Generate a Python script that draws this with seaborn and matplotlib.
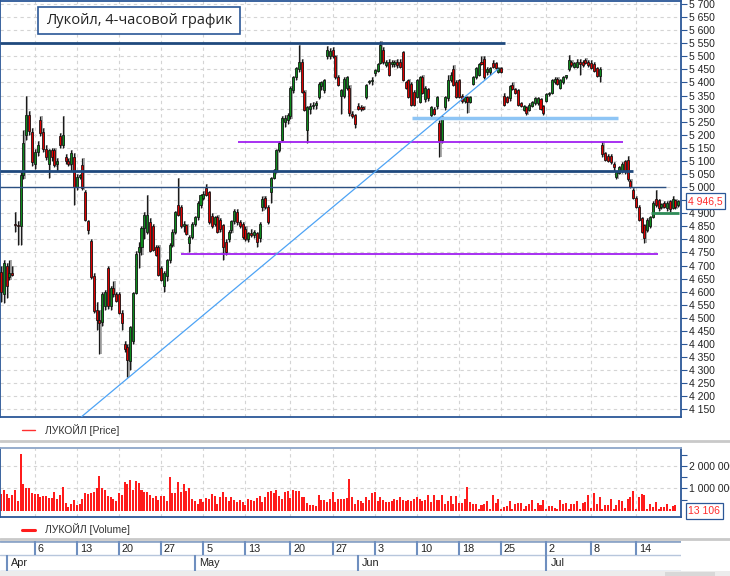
import numpy as np
import pandas as pd
import matplotlib
matplotlib.use('Agg')
import matplotlib.pyplot as plt
import matplotlib.transforms as mtrans
from matplotlib.lines import Line2D
from matplotlib.patches import Rectangle
import seaborn as sns

sns.set_theme(style='white')
plt.rcParams['font.family'] = ['Liberation Sans', 'DejaVu Sans']

# 4h candles
opens = [4675, 4590, 4700, 4655, 4670, 4860, 4855, 4850, 5045, 5200,
         5275, 5210, 5090, 5135, 5255, 5210, 5145, 5090, 5140, 5140,
         5090, 5195, 5160, 5115, 5100, 5090, 5115, 5000, 5040, 5085,
         4980, 4870, 4795, 4660, 4530, 4490, 4485, 4545, 4690, 4545,
         4615, 4590, 4590, 4520, 4400, 4390, 4335, 4410, 4595, 4750,
         4770, 4845, 4830, 4865, 4850, 4770, 4770, 4690, 4620, 4660,
         4720, 4780, 4830, 4930, 4925, 4850, 4855, 4785, 4810, 4860,
         4885, 4930, 4960, 4995, 4980, 4890, 4860, 4885, 4875, 4855,
         4790, 4800, 4835, 4870, 4905, 4865, 4860, 4840, 4800, 4825,
         4815, 4825, 4805, 4925, 4960, 4925, 4980, 5035, 5060, 5140,
         5180, 5250, 5255, 5270, 5370, 5420, 5450, 5478, 5365, 5220,
         5300, 5310, 5315, 5345, 5385, 5370, 5500, 5500, 5525, 5500,
         5420, 5350, 5350, 5380, 5380, 5280, 5275, 5310, 5305, 5305,
         5345, 5400, 5405, 5435, 5445, 5475, 5525, 5465, 5478, 5470,
         5470, 5480, 5480, 5515, 5400, 5410, 5395, 5365, 5345, 5325,
         5420, 5335, 5375, 5275, 5300, 5310, 5245, 5180, 5305, 5340,
         5410, 5450, 5400, 5410, 5350, 5330, 5345, 5325, 5395, 5420,
         5430, 5480, 5490, 5440, 5440, 5475, 5475, 5440, 5455, 5350,
         5345, 5340, 5390, 5375, 5370, 5320, 5295, 5305, 5295, 5310,
         5320, 5320, 5335, 5310, 5330, 5355, 5360, 5400, 5415, 5380,
         5400, 5420, 5450, 5480, 5460, 5460, 5480, 5478, 5485, 5480,
         5475, 5470, 5455, 5425, 5160, 5130, 5120, 5120, 5090, 5040,
         5055, 5060, 5100, 5105, 5025, 4990, 4960, 4925, 4880, 4855,
         4835, 4850, 4885, 4955, 4950, 4925, 4940, 4920, 4945, 4920,
         4950, 4930]
highs = [4700, 4720, 4710, 4720, 4700, 4905, 4870, 5060, 5220, 5350,
         5290, 5225, 5145, 5175, 5270, 5225, 5160, 5145, 5150, 5150,
         5110, 5205, 5270, 5125, 5110, 5140, 5130, 5050, 5050, 5110,
         4990, 4875, 4800, 4670, 4560, 4530, 4600, 4605, 4700, 4620,
         4640, 4600, 4600, 4530, 4410, 4400, 4470, 4600, 4755, 4790,
         4850, 4905, 4970, 4880, 4860, 4780, 4780, 4700, 4680, 4725,
         4785, 4840, 4910, 5035, 4930, 4870, 4860, 4815, 4865, 4890,
         4945, 4975, 4985, 5010, 4985, 4900, 4890, 4895, 4880, 4860,
         4800, 4835, 4875, 4915, 4915, 4875, 4865, 4850, 4830, 4840,
         4835, 4830, 4865, 4965, 4965, 4930, 5040, 5070, 5145, 5175,
         5270, 5275, 5285, 5385, 5425, 5460, 5545, 5490, 5370, 5310,
         5320, 5325, 5330, 5400, 5405, 5415, 5540, 5530, 5535, 5505,
         5430, 5375, 5420, 5425, 5390, 5290, 5280, 5320, 5315, 5310,
         5395, 5410, 5420, 5450, 5475, 5560, 5535, 5485, 5490, 5485,
         5485, 5490, 5490, 5520, 5405, 5415, 5400, 5370, 5415, 5425,
         5430, 5385, 5380, 5310, 5305, 5350, 5255, 5270, 5350, 5430,
         5440, 5465, 5410, 5415, 5355, 5350, 5350, 5350, 5425, 5460,
         5475, 5500, 5500, 5460, 5460, 5485, 5480, 5460, 5460, 5360,
         5350, 5390, 5400, 5380, 5375, 5325, 5315, 5310, 5320, 5330,
         5345, 5345, 5340, 5315, 5360, 5365, 5415, 5420, 5420, 5415,
         5425, 5430, 5505, 5485, 5480, 5490, 5490, 5485, 5495, 5485,
         5485, 5480, 5460, 5460, 5175, 5135, 5125, 5125, 5095, 5060,
         5080, 5095, 5105, 5120, 5030, 4995, 4965, 4930, 4885, 4860,
         4880, 4890, 4945, 4990, 4955, 4940, 4945, 4945, 4950, 4965,
         4955, 4950]
lows = [4560, 4555, 4575, 4645, 4660, 4830, 4780, 4780, 5030, 5180,
        5200, 5080, 5070, 5120, 5195, 5135, 5105, 5035, 5100, 5075,
        5060, 5150, 5150, 5090, 5080, 5060, 4930, 4990, 5030, 4990,
        4870, 4820, 4650, 4520, 4455, 4360, 4470, 4530, 4535, 4530,
        4580, 4560, 4515, 4455, 4370, 4275, 4300, 4400, 4590, 4690,
        4740, 4800, 4820, 4750, 4755, 4735, 4660, 4640, 4600, 4640,
        4710, 4770, 4820, 4890, 4845, 4830, 4815, 4750, 4800, 4850,
        4875, 4920, 4950, 4965, 4860, 4845, 4850, 4825, 4830, 4720,
        4740, 4790, 4825, 4860, 4855, 4845, 4800, 4795, 4790, 4810,
        4805, 4770, 4790, 4910, 4915, 4860, 4940, 5030, 5055, 5135,
        5175, 5230, 5240, 5260, 5360, 5410, 5440, 5360, 5290, 5170,
        5280, 5300, 5300, 5335, 5370, 5360, 5490, 5490, 5495, 5415,
        5385, 5280, 5340, 5370, 5270, 5265, 5225, 5295, 5290, 5295,
        5335, 5395, 5390, 5425, 5440, 5470, 5470, 5460, 5425, 5460,
        5460, 5455, 5455, 5405, 5375, 5340, 5310, 5310, 5340, 5320,
        5355, 5325, 5330, 5265, 5275, 5300, 5115, 5170, 5295, 5330,
        5400, 5385, 5340, 5340, 5320, 5320, 5285, 5320, 5390, 5415,
        5425, 5465, 5415, 5430, 5430, 5455, 5450, 5435, 5435, 5310,
        5320, 5330, 5370, 5355, 5310, 5305, 5290, 5275, 5290, 5305,
        5315, 5315, 5295, 5275, 5325, 5350, 5355, 5395, 5390, 5375,
        5395, 5415, 5445, 5460, 5455, 5455, 5430, 5460, 5470, 5460,
        5450, 5440, 5420, 5400, 5115, 5100, 5095, 5090, 5060, 5030,
        5050, 5055, 5050, 5025, 4995, 4955, 4920, 4870, 4825, 4785,
        4830, 4845, 4880, 4925, 4910, 4915, 4920, 4910, 4905, 4915,
        4915, 4925]
closes = [4600, 4710, 4620, 4670, 4665, 4855, 4850, 5045, 5170, 5275,
          5215, 5095, 5135, 5160, 5205, 5145, 5115, 5140, 5115, 5085,
          5100, 5160, 5200, 5100, 5090, 5130, 5000, 5040, 5045, 4997,
          4875, 4835, 4655, 4525, 4490, 4480, 4590, 4600, 4545, 4615,
          4590, 4565, 4520, 4480, 4380, 4340, 4465, 4595, 4745, 4770,
          4845, 4895, 4895, 4755, 4760, 4740, 4665, 4645, 4672, 4720,
          4780, 4830, 4905, 4895, 4850, 4860, 4820, 4810, 4860, 4885,
          4940, 4970, 4975, 4970, 4865, 4850, 4885, 4830, 4840, 4770,
          4750, 4830, 4870, 4910, 4865, 4850, 4810, 4800, 4825, 4815,
          4830, 4790, 4860, 4955, 4925, 4865, 5035, 5065, 5140, 5170,
          5265, 5265, 5275, 5380, 5420, 5455, 5478, 5365, 5295, 5305,
          5310, 5315, 5320, 5395, 5400, 5410, 5525, 5520, 5500, 5420,
          5390, 5370, 5415, 5420, 5285, 5270, 5240, 5300, 5300, 5300,
          5390, 5405, 5410, 5448, 5470, 5545, 5478, 5480, 5430, 5480,
          5480, 5465, 5460, 5410, 5380, 5345, 5315, 5315, 5410, 5420,
          5360, 5380, 5340, 5305, 5280, 5345, 5175, 5265, 5345, 5410,
          5430, 5390, 5345, 5345, 5330, 5345, 5325, 5345, 5420, 5455,
          5470, 5470, 5420, 5450, 5455, 5460, 5455, 5455, 5440, 5315,
          5325, 5385, 5375, 5360, 5315, 5310, 5310, 5285, 5315, 5325,
          5340, 5340, 5300, 5285, 5355, 5360, 5410, 5415, 5395, 5410,
          5420, 5428, 5485, 5465, 5475, 5480, 5470, 5465, 5475, 5465,
          5455, 5445, 5425, 5450, 5125, 5105, 5100, 5095, 5075, 5058,
          5077, 5090, 5060, 5030, 5000, 4960, 4925, 4875, 4830, 4805,
          4875, 4885, 4940, 4930, 4920, 4935, 4925, 4940, 4915, 4955,
          4925, 4946.5]
# volume, thousands of shares
volumes_k = [750, 930, 740, 590, 710, 930, 440, 2510, 1180, 1000,
             1040, 810, 760, 760, 630, 660, 660, 590, 590, 850,
             530, 710, 1070, 340, 180, 290, 500, 260, 310, 530,
             810, 750, 790, 850, 1040, 1530, 1010, 930, 660, 620,
             530, 440, 790, 710, 1290, 1180, 1380, 930, 1340, 1250,
             930, 820, 820, 690, 590, 660, 490, 660, 660, 440,
             1490, 810, 810, 1290, 840, 1190, 900, 1000, 530, 440,
             310, 530, 400, 560, 530, 740, 680, 290, 600, 840,
             630, 440, 600, 490, 400, 490, 400, 280, 530, 490,
             440, 560, 680, 400, 600, 820, 880, 790, 930, 680,
             530, 840, 880, 560, 930, 880, 880, 630, 600, 350,
             250, 250, 210, 690, 490, 490, 400, 530, 840, 400,
             530, 530, 530, 570, 1410, 600, 290, 490, 440, 350,
             600, 490, 790, 840, 440, 600, 490, 400, 400, 440,
             530, 490, 600, 490, 430, 490, 460, 530, 600, 530,
             440, 490, 690, 400, 690, 490, 490, 690, 290, 440,
             650, 290, 650, 350, 350, 530, 1060, 400, 310, 310,
             70, 260, 290, 440, 90, 690, 350, 530, 90, 180,
             210, 440, 90, 310, 350, 350, 90, 220, 310, 490,
             90, 350, 260, 490, 90, 210, 210, 130, 90, 490,
             310, 350, 90, 310, 310, 440, 90, 350, 400, 690,
             150, 790, 290, 620, 90, 250, 250, 530, 90, 250,
             490, 440, 130, 530, 630, 880, 90, 600, 750, 710,
             90, 290, 180, 400, 90, 180, 180, 290, 90, 200,
             250, 13.106]

# drawn support / resistance levels (price, from candle, to candle)
level_price = [5550, 5060, 5000, 5172, 4745, 5265, 4900]
level_from = [-0.4, -0.4, -0.4, 84.3, 64.1, 146.3, 231.3]
level_to = [179.4, 224.9, 236.7, 221.4, 233.8, 219.6, 241.3]
trend_x = [28.1, 176.9]
trend_y = [4117, 5451]

day_ticks = [12, 27, 42, 57, 72, 87, 103, 118, 133, 148, 163, 178, 194, 210, 226]
day_labels = ['6', '13', '20', '27', '5', '13', '20', '27', '3', '10', '18', '25', '2', '8', '14']
month_starts = [2, 69, 127, 194]
month_labels = ['Apr', 'May', 'Jun', 'Jul']

df = pd.DataFrame({'open': opens, 'high': highs, 'low': lows, 'close': closes})
df['idx'] = np.arange(len(df))
df['volume'] = np.array(volumes_k) * 1000
up = df.close >= df.open

W, H = 730, 576
def fx(px):
    return px / W
def fy(py):
    return 1 - py / H

XL = (-0.356, 242.0)
frame = '#2b5797'
gridc = '#d4d4d4'

def thou(v, pos=None):
    return '{:,}'.format(int(round(v))).replace(',', ' ')

def price_fmt(v, pos=None):
    # the last-price box sits over the 4 950 label
    if abs(v - 4950) < 1:
        return ''
    return thou(v)

fig = plt.figure(figsize=(7.3, 5.76), dpi=100)
fig.patch.set_facecolor('white')

# ---- price panel
ax = fig.add_axes([0, fy(417), fx(681), 416 / H])
ax.vlines(df.idx + 0.42, df.low, df.high, color='#a9a9a9', lw=1.4, zorder=2)
ax.vlines(df.idx, df.low, df.high, color='#1a1a1a', lw=0.9, zorder=3)
body_lo = np.minimum(df.open, df.close)
body_h = np.maximum((df.close - df.open).abs(), 3)
ax.bar(df.idx, body_h, bottom=body_lo, width=0.72,
       color=np.where(up, '#0d8a1c', '#dd0000'), edgecolor='#101010', linewidth=0.55, zorder=4)

lvl_col = ['#1f497d', '#1f497d', '#2b4f81', '#a020f0', '#a020f0', '#8ec5f5', '#2e8b57']
lvl_lw = [2.0, 2.0, 1.0, 1.3, 1.3, 2.5, 2.0]
for p, a, b, c, w in zip(level_price, level_from, level_to, lvl_col, lvl_lw):
    ax.hlines(p, a, b, color=c, lw=w, zorder=5)
ax.plot(trend_x, trend_y, color='#4da3f5', lw=0.9, zorder=5)

ax.set_xlim(*XL)
ax.set_ylim(4121, 5711.5)
ax.set_xticks(day_ticks)
ax.set_yticks(np.arange(4150, 5701, 50))
ax.yaxis.set_major_formatter(plt.FuncFormatter(price_fmt))
ax.yaxis.tick_right()
ax.tick_params(axis='x', length=0, labelbottom=False)
ax.tick_params(axis='y', direction='out', length=4, width=0.8, color=frame,
               labelsize=7.5, labelcolor='#222222', pad=1.5)
ax.grid(True, color=gridc, lw=0.8, ls=(0, (3, 3)))
ax.set_axisbelow(True)
for s in ax.spines.values():
    s.set_color(frame)
    s.set_linewidth(1.3)

btr = mtrans.blended_transform_factory(ax.transAxes, ax.transData)
ax.text(1.0105, closes[-1], '4 946,5', transform=btr, ha='left', va='center',
        fontsize=7.5, color='#ff2b2b', clip_on=False,
        bbox=dict(boxstyle='square,pad=0.25', fc='white', ec=frame, lw=0.9))

# ---- volume panel
axv = fig.add_axes([0, fy(517), fx(681), 69 / H])
sns.barplot(x=df.idx, y=df.volume, color='#ff1c1c', saturation=1, width=0.72,
            errorbar=None, linewidth=0, ax=axv)
axv.set_xlim(*XL)
axv.set_ylim(-265000, 2788000)
axv.set_xlabel('')
axv.set_ylabel('')
axv.set_xticks(day_ticks)
axv.set_yticks([1000000, 2000000])
axv.set_yticks([500000, 1500000, 2500000], minor=True)
axv.yaxis.set_major_formatter(plt.FuncFormatter(thou))
axv.yaxis.tick_right()
axv.tick_params(axis='x', length=0, labelbottom=False)
axv.tick_params(axis='y', which='both', direction='out', length=4, width=0.8, color=frame,
                labelsize=7.5, labelcolor='#222222', pad=1.5)
axv.grid(True, which='major', color=gridc, lw=0.8, ls=(0, (3, 3)))
axv.set_axisbelow(True)
for k, s in axv.spines.items():
    s.set_color('#8ea6c8' if k == 'top' else frame)
    s.set_linewidth(1.3)
btv = mtrans.blended_transform_factory(axv.transAxes, axv.transData)
axv.text(1.0105, 0, '13 106', transform=btv, ha='left', va='center',
         fontsize=7.5, color='#ff2b2b', clip_on=False,
         bbox=dict(boxstyle='square,pad=0.25', fc='white', ec=frame, lw=0.9))

# ---- date strip
axd = fig.add_axes([0, fy(571), fx(681), 30 / H])
axd.set_xlim(*XL)
axd.set_ylim(0, 1)
axd.axis('off')
mid = 0.517
axd.axhline(1, color='#8ea6c8', lw=2)
axd.axhline(mid, color='#b7c6dc', lw=1)
axd.axhline(0.01, color='#8ea6c8', lw=1)
axd.vlines(day_ticks, mid, 1, color='#6f8fbf', lw=1.5)
axd.vlines(month_starts, 0, mid, color='#6f8fbf', lw=1.5)
for t, lab in zip(day_ticks, day_labels):
    axd.text(t + 1.0, 0.75, lab, ha='left', va='center', fontsize=7.8, color='#222222')
for t, lab in zip(month_starts, month_labels):
    axd.text(t + 1.5, 0.25, lab, ha='left', va='center', fontsize=7.8, color='#222222')

# ---- legends, separators, title
for yy in (440.5, 539):
    fig.add_artist(Line2D([0, 1], [fy(yy), fy(yy)], color='#c9c9c9', lw=2))
fig.add_artist(Rectangle((0, 0), 1, fy(571), transform=fig.transFigure,
                         fc='#ececec', ec='none'))
fig.add_artist(Rectangle((fx(665), 0), fx(50), fy(572), transform=fig.transFigure,
                         fc='#d8d8d8', ec='none'))
fig.add_artist(Line2D([fx(22), fx(35)], [fy(430), fy(430)], color='#ff3030', lw=1))
fig.text(fx(45), fy(430), 'ЛУКОЙЛ [Price]', ha='left', va='center', fontsize=7.5, color='#333333')
fig.add_artist(Line2D([fx(22), fx(35)], [fy(529.5), fy(529.5)], color='#ff1c1c', lw=2.2))
fig.text(fx(45), fy(529.5), 'ЛУКОЙЛ [Volume]', ha='left', va='center', fontsize=7.5, color='#333333')

fig.add_artist(Rectangle((fx(38), fy(34)), fx(202), 27 / H, transform=fig.transFigure,
                         fc='white', ec=frame, lw=1.2, zorder=10))
fig.text(fx(139), fy(20.5), 'Лукойл, 4-часовой график', ha='center', va='center',
         fontsize=10.5, family=['Open Sans', 'DejaVu Sans'], color='#222222', zorder=11)

fig.savefig('out.png', dpi=100)
